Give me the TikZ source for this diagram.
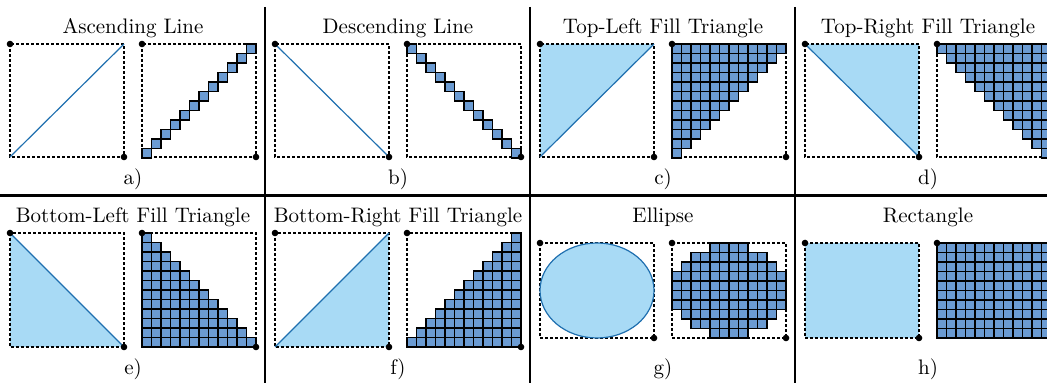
\documentclass[tikz,border=0pt]{standalone}
\definecolor{lightfill}{RGB}{168,218,245}
\definecolor{lineblue}{RGB}{31,111,175}
\definecolor{pixfill}{RGB}{107,155,210}
\tikzset{
  box/.style={draw=black, line width=0.6pt, dash pattern=on 1.5pt off 1pt},
  corner/.style={circle, fill=black, inner sep=0pt, minimum size=3.3pt},
  pix/.style={draw=black, fill=pixfill, line width=0.65pt},
  cont/.style={fill=lightfill},
  edgeline/.style={draw=lineblue, line width=0.6pt},
  sep/.style={line width=1.3pt},
  title/.style={anchor=base, font=\fontsize{10.5}{12}\selectfont},
}
% #1 panel x, #2 box top, #3 box height
\newcommand\pframe[3]{%
  \draw[box] (#1+10,#2) rectangle (#1+124,#2+#3);
  \draw[box] (#1+142,#2) rectangle (#1+256,#2+#3);
}
\newcommand\pdots[4]{%
  \node[corner] (#4l1) at (#1+10,#2) {};
  \node[corner] (#4l2) at (#1+124,#2+#3) {};
  \node[corner] (#4r1) at (#1+142,#2) {};
  \node[corner] (#4r2) at (#1+256,#2+#3) {};
}
% #1 panel x, #2 box top, #3 column i, #4 row j
\newcommand\pcell[4]{%
  \draw[pix] ({#1+142+9.5*(#3)},{#2+9.5*(#4)}) rectangle ++(9.5,9.5);
}
\begin{document}
\begin{tikzpicture}[x=0.5pt,y=-0.5pt]
\clip (0,0) rectangle (1047,383);
\useasboundingbox (0,0) rectangle (1047,383);

% separators
\draw[sep] (265,7) -- (265,383);
\draw[sep] (530,7) -- (530,383);
\draw[sep] (795,7) -- (795,383);
\draw[sep] (0,195.5) -- (1047,195.5);

% titles
\node[title] (ta) at (133,33.5) {Ascending Line};
\node[title] (tb) at (398,33.5) {Descending Line};
\node[title] (tc) at (663,33.5) {Top-Left Fill Triangle};
\node[title] (td) at (928,33.5) {Top-Right Fill Triangle};
\node[title] (te) at (133,222.5) {Bottom-Left Fill Triangle};
\node[title] (tf) at (398,222.5) {Bottom-Right Fill Triangle};
\node[title] (tg) at (663,222.5) {Ellipse};
\node[title] (th) at (928,222.5) {Rectangle};

% labels
\node[title] (la) at (133,184.5) {a)};
\node[title] (lb) at (398,184.5) {b)};
\node[title] (lc) at (663,184.5) {c)};
\node[title] (ld) at (928,184.5) {d)};
\node[title] (le) at (133,375) {e)};
\node[title] (lf) at (398,375) {f)};
\node[title] (lg) at (663,375) {g)};
\node[title] (lh) at (928,375) {h)};

% continuous fills
\fill[cont] (540,44) -- (654,44) -- (540,157) -- cycle;
\fill[cont] (805,44) -- (919,44) -- (919,157) -- cycle;
\fill[cont] (10,233) -- (10,347) -- (124,347) -- cycle;
\fill[cont] (389,233) -- (389,347) -- (275,347) -- cycle;
\fill[cont] (805,243) rectangle (919,338);

% frames
\pframe{0}{44}{113}
\pframe{265}{44}{113}
\pframe{530}{44}{113}
\pframe{795}{44}{113}
\pframe{0}{233}{114}
\pframe{265}{233}{114}
\pframe{530}{243}{95}
\pframe{795}{243}{95}

% continuous lines
\draw[edgeline] (10,157) -- (124,44);
\draw[edgeline] (275,44) -- (389,157);
\draw[edgeline] (540,157) -- (654,44);
\draw[edgeline] (805,44) -- (919,157);
\draw[edgeline] (10,233) -- (124,347);
\draw[edgeline] (275,347) -- (389,233);
\draw[edgeline, fill=lightfill] (597,290.5) ellipse [x radius=57, y radius=47.5];

% pixel grids
\foreach \j in {0,...,11}{
  \foreach \i in {0,...,11}{
    \ifnum\numexpr\i+\j\relax=11 \pcell{0}{44}{\i}{\j}\fi
    \ifnum\i=\j\relax \pcell{265}{44}{\i}{\j}\fi
    \ifnum\numexpr\i+\j\relax<12 \pcell{530}{44}{\i}{\j}\fi
    \ifnum\i<\j\relax\else \pcell{795}{44}{\i}{\j}\fi
    \ifnum\i>\j\relax\else \pcell{0}{233}{\i}{\j}\fi
    \ifnum\numexpr\i+\j\relax>10 \pcell{265}{233}{\i}{\j}\fi
  }
}
\foreach \j/\a/\b in {0/4/7,1/2/9,2/1/10,3/0/11,4/0/11,5/0/11,6/0/11,7/1/10,8/2/9,9/4/7}{
  \foreach \i in {\a,...,\b}{\pcell{530}{243}{\i}{\j}}
}
\foreach \j in {0,...,9}{
  \foreach \i in {0,...,11}{\pcell{795}{243}{\i}{\j}}
}

% corner dots
\pdots{0}{44}{113}{a}
\pdots{265}{44}{113}{b}
\pdots{530}{44}{113}{c}
\pdots{795}{44}{113}{d}
\pdots{0}{233}{114}{e}
\pdots{265}{233}{114}{f}
\pdots{530}{243}{95}{g}
\pdots{795}{243}{95}{h}
\end{tikzpicture}
\end{document}
